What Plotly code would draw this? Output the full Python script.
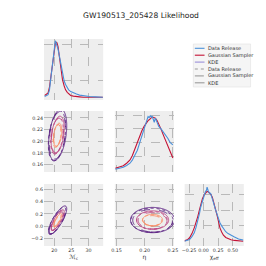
import numpy as np
import plotly.graph_objects as go

# ---------------- data ----------------
title_text = "GW190513_205428 Likelihood"
methods = ["Data Release", "Gaussian Sampler", "KDE"]
method_colors = ["#4a90d9", "#c41236", "#9a8fd8"]
method_dash = ["dot", "dash", "solid"]

# 1D marginal of chirp mass
mc_x = [17.2, 17.8, 18.2, 18.6, 19.1, 19.5, 19.8, 20.1, 20.3, 20.5, 20.8, 21.1, 21.5, 22.0,
        22.4, 22.9, 23.3, 23.8, 24.2, 24.8, 25.6, 26.5, 27.4, 28.5, 30.3, 32.0, 34.2]
mc_gs = [0.006, 0.009, 0.013, 0.03, 0.07, 0.105, 0.127, 0.145, 0.153, 0.158, 0.156, 0.145, 0.113,
         0.075, 0.051, 0.033, 0.022, 0.015, 0.011, 0.006, 0.004, 0.002, 0.002, 0.001, 0.001, 0.001, 0.001]
mc_dr = [0.003, 0.005, 0.008, 0.022, 0.06, 0.10, 0.13, 0.152, 0.162, 0.157, 0.148, 0.138, 0.118,
         0.088, 0.065, 0.047, 0.037, 0.028, 0.022, 0.017, 0.013, 0.010, 0.007, 0.005, 0.003, 0.002, 0.001]

# 1D marginal of eta
eta_x = [0.148, 0.155, 0.162, 0.168, 0.174, 0.178, 0.182, 0.187, 0.191, 0.195, 0.199, 0.203, 0.206,
         0.208, 0.210, 0.212, 0.213, 0.215, 0.217, 0.219, 0.222, 0.225, 0.229, 0.233, 0.237, 0.241,
         0.245, 0.250]
eta_gs = [0.7, 1.1, 1.6, 2.5, 3.7, 5.2, 7.4, 9.8, 12.2, 14.3, 15.9, 17.2, 18.0, 18.3, 18.8, 19.1,
          19.3, 19.2, 19.0, 18.9, 18.0, 16.8, 14.9, 12.8, 10.7, 8.6, 6.5, 4.4]
eta_dr = [0.3, 0.6, 1.0, 1.7, 2.5, 3.6, 5.0, 7.2, 9.8, 12.5, 15.3, 17.6, 19.5, 19.1, 19.8, 19.2,
          19.7, 18.6, 17.4, 18.9, 17.1, 15.9, 15.0, 14.0, 12.6, 11.6, 10.1, 9.2]

# 1D marginal of chi_eff
chi_x = [-0.33, -0.28, -0.24, -0.20, -0.16, -0.13, -0.10, -0.07, -0.05, -0.02, 0.01, 0.03, 0.05,
         0.06, 0.08, 0.10, 0.12, 0.15, 0.17, 0.20, 0.23, 0.26, 0.28, 0.31, 0.34, 0.38, 0.42, 0.47,
         0.53, 0.60, 0.68]
chi_gs = [0.03, 0.10, 0.23, 0.50, 0.87, 1.2, 1.6, 2.05, 2.4, 2.75, 3.0, 3.12, 3.2, 3.22, 3.2, 3.15,
          3.05, 2.85, 2.6, 2.15, 1.7, 1.2, 0.87, 0.6, 0.4, 0.25, 0.16, 0.10, 0.06, 0.03, 0.01]
chi_dr = [0.01, 0.05, 0.12, 0.30, 0.55, 0.9, 1.3, 1.8, 2.2, 2.65, 3.0, 3.2, 3.3, 3.5, 3.25, 3.1,
          3.1, 2.8, 2.5, 2.1, 1.7, 1.4, 1.2, 1.0, 0.8, 0.62, 0.5, 0.38, 0.28, 0.15, 0.08]

# 2D credible-region summaries per method (centre, spread, correlation)
mc_mean = [20.8, 20.9, 21.0]
mc_sd = [1.15, 1.08, 1.2]
eta_mean = [0.209, 0.210, 0.211]
eta_sd = [0.0195, 0.0185, 0.020]
chi_mean = [0.09, 0.08, 0.10]
chi_sd = [0.100, 0.094, 0.105]
eta_mean_ec = [0.213, 0.214, 0.214]
eta_sd_ec = [0.0170, 0.0160, 0.0178]
chi_mean_ec = [0.095, 0.088, 0.10]
chi_sd_ec = [0.090, 0.084, 0.094]
rho_mc_eta = [0.35, 0.30, 0.35]
rho_mc_chi = [0.80, 0.78, 0.80]
rho_eta_chi = [0.0, -0.05, 0.0]
contour_levels = [1.0, 1.6, 2.2]
contour_colors = ["#fc8961", "#b73779", "#51127c"]

# axis settings
mc_range = [17.0, 34.3]
eta_range = [0.147, 0.252]
chi_range = [-0.325, 0.69]
mc_ticks = [20, 25, 30]
eta_ticks = [0.15, 0.20, 0.25]
chi_ticks = [-0.25, 0.0, 0.25, 0.50]
eta_yticks = [0.16, 0.18, 0.20, 0.22, 0.24]
chi_yticks = [-0.2, 0.0, 0.2, 0.4, 0.6]

# ---------------- layout helpers ----------------
W = H = 266
def px_x(a, b):
    return [a / W, b / W]
def px_y(a, b):
    return [1 - b / H, 1 - a / H]

cols = [px_x(33, 94), px_x(106, 167), px_x(178, 239)]
rows = [px_y(31, 92), px_y(103, 164), px_y(176, 238)]

fig = go.Figure()

tickfont = dict(size=4.8, color="#333333", family="DejaVu Sans")
grid = dict(showgrid=True, gridcolor="#b9b9b9", griddash="dash", gridwidth=0.5,
            zeroline=False, showline=False, ticks="", tickfont=tickfont, tickangle=0)

panels = {
    # k: (col, row, xrange, xticks, xfmt, show xlabels, xtitle, yrange, yticks, yfmt, show ylabels)
    1: (0, 0, mc_range, mc_ticks, "d", False, None, [-0.007, 0.167], [0.05, 0.15], ".2f", False),
    2: (0, 1, mc_range, mc_ticks, "d", False, None, eta_range, eta_yticks, ".2f", True),
    3: (1, 1, eta_range, eta_ticks, ".2f", False, None, [-0.7, 21.5], [5, 10, 15, 20], "d", False),
    4: (0, 2, mc_range, mc_ticks, "d", True, "ℳ<sub>c</sub>", chi_range, chi_yticks, ".1f", True),
    5: (1, 2, eta_range, eta_ticks, ".2f", True, "η", chi_range, chi_yticks, ".1f", False),
    6: (2, 2, chi_range, chi_ticks, ".2f", True, "χ<sub>eff</sub>", [-0.3, 3.7], [1, 2, 3], "d", False),
}

lay = {}
for k, (c, r, xr, xt, xf, sxl, xtitle, yr, yt, yf, syl) in panels.items():
    sfx = "" if k == 1 else str(k)
    xa = dict(domain=cols[c], range=xr, tickvals=xt, tickformat=xf, showticklabels=sxl,
              anchor="y" + sfx, fixedrange=True, **grid)
    if xtitle:
        xa["title"] = dict(text=xtitle, font=dict(size=6, color="#333333"), standoff=2)
    lay["xaxis" + sfx] = xa
    lay["yaxis" + sfx] = dict(domain=rows[r], range=yr, tickvals=yt, tickformat=yf,
                              showticklabels=syl, anchor="x" + sfx, fixedrange=True, **grid)

# ---------------- 1D marginals ----------------
for k, xs, dr, gs in [(1, mc_x, mc_dr, mc_gs), (3, eta_x, eta_dr, eta_gs), (6, chi_x, chi_dr, chi_gs)]:
    sfx = "" if k == 1 else str(k)
    fig.add_trace(go.Scatter(x=xs, y=gs, mode="lines", line=dict(color=method_colors[1], width=1.1),
                             xaxis="x" + sfx, yaxis="y" + sfx, showlegend=False, hoverinfo="skip"))
    fig.add_trace(go.Scatter(x=xs, y=dr, mode="lines", line=dict(color=method_colors[0], width=1.1),
                             xaxis="x" + sfx, yaxis="y" + sfx, showlegend=False, hoverinfo="skip"))

# ---------------- 2D credible contours ----------------
def radius_grid(xr, yr, mx, sx, my, sy, rho, n=160):
    gx = np.linspace(xr[0], xr[1], n)
    gy = np.linspace(yr[0], yr[1], n)
    X, Y = np.meshgrid(gx, gy)
    u = (X - mx) / sx
    v = (Y - my) / sy
    q = (u * u - 2 * rho * u * v + v * v) / (1 - rho * rho)
    return gx, gy, np.sqrt(q)

cscale = [[0.0, contour_colors[0]], [0.5, contour_colors[1]], [1.0, contour_colors[2]]]
for i in range(3):
    for k, xr, yr, mx, sx, my, sy, rho in [
        (2, mc_range, eta_range, mc_mean[i], mc_sd[i], eta_mean[i], eta_sd[i], rho_mc_eta[i]),
        (4, mc_range, chi_range, mc_mean[i], mc_sd[i], chi_mean[i], chi_sd[i], rho_mc_chi[i]),
        (5, eta_range, chi_range, eta_mean_ec[i], eta_sd_ec[i], chi_mean_ec[i], chi_sd_ec[i], rho_eta_chi[i]),
    ]:
        gx, gy, z = radius_grid(xr, yr, mx, sx, my, sy, rho)
        fig.add_trace(go.Contour(
            x=gx, y=gy, z=z, xaxis="x" + str(k), yaxis="y" + str(k),
            contours=dict(coloring="lines", start=contour_levels[0], end=contour_levels[-1],
                          size=contour_levels[1] - contour_levels[0], showlabels=False),
            colorscale=cscale, zmin=contour_levels[0], zmax=contour_levels[-1], zauto=False,
            showscale=False, line=dict(width=0.9, dash=method_dash[i]),
            hoverinfo="skip", showlegend=False))

# ---------------- legend (drawn) ----------------
legend_labels = methods + methods
legend_colors = method_colors + ["#9a9a9a"] * 3
legend_dash = ["solid"] * 3 + method_dash
shapes = [dict(type="rect", xref="paper", yref="paper", x0=187 / W, x1=246 / W,
               y0=1 - 79 / H, y1=1 - 36 / H, fillcolor="#f5f5f5",
               line=dict(color="#e0e0e0", width=0.6), layer="below")]
annotations = []
for j, (lab, col, dsh) in enumerate(zip(legend_labels, legend_colors, legend_dash)):
    yy = 1 - (40.3 + j * 6.9) / H
    shapes.append(dict(type="line", xref="paper", yref="paper", x0=188.5 / W, x1=198.5 / W,
                       y0=yy, y1=yy, line=dict(color=col, width=1.1, dash=dsh)))
    annotations.append(dict(text=lab, xref="paper", yref="paper", x=200.5 / W, y=yy,
                            xanchor="left", yanchor="middle", showarrow=False,
                            font=dict(size=5, color="#333333", family="DejaVu Sans")))

fig.update_layout(
    width=W, height=H, margin=dict(l=0, r=0, t=0, b=0),
    paper_bgcolor="white", plot_bgcolor="#eeeeee",
    title=dict(text=title_text, x=0.5, xanchor="center", y=1 - 7.5 / H, yanchor="middle",
               font=dict(size=7.6, color="#222222", family="DejaVu Sans")),
    showlegend=False, shapes=shapes, annotations=annotations,
    font=dict(family="DejaVu Sans"),
    **lay,
)

fig.write_html("out.html", config={"displayModeBar": False})
